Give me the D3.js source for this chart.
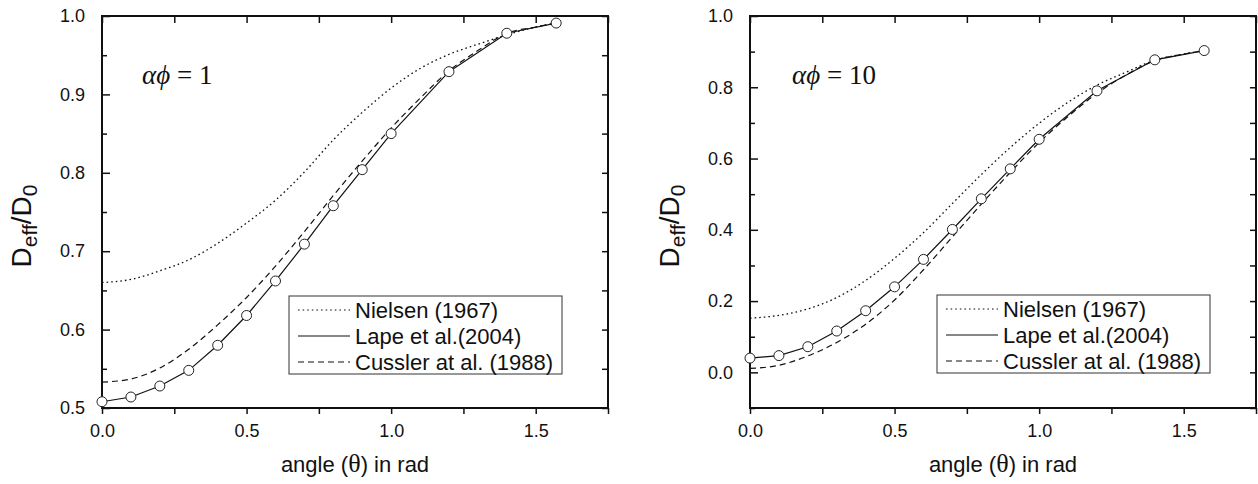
<!DOCTYPE html>
<html>
<head>
<meta charset="utf-8">
<script src="https://cdn.jsdelivr.net/npm/d3@7/dist/d3.min.js"></script>
<style>
  body { margin: 0; background: #fff; }
  svg { display: block; }
  text { fill: #111; }
</style>
</head>
<body>
<div id="graph"></div>
<script>

// angles (rad) where Lape et al. values were computed
var thetaPts = [0, 0.1, 0.2, 0.3, 0.4, 0.5, 0.6, 0.7, 0.8, 0.9, 1.0, 1.2, 1.4, 1.5708];
// angles used for the smooth model curves
var thetaCurve = [0, 0.1, 0.2, 0.3, 0.4, 0.5, 0.6, 0.7, 0.8, 0.9, 1.0, 1.1, 1.2, 1.3, 1.4, 1.5, 1.5708];

// alpha*phi = 1
var lape1    = [0.508, 0.514, 0.528, 0.548, 0.580, 0.618, 0.662, 0.709, 0.758, 0.804, 0.850, 0.929, 0.978, 0.991];
var nielsen1 = [0.660, 0.664, 0.675, 0.689, 0.710, 0.736, 0.765, 0.801, 0.842, 0.877, 0.908, 0.933, 0.951, 0.964, 0.976, 0.986, 0.991];
var cussler1 = [0.533, 0.537, 0.551, 0.575, 0.606, 0.641, 0.681, 0.725, 0.771, 0.815, 0.857, 0.895, 0.930, 0.956, 0.978, 0.986, 0.991];

// alpha*phi = 10
var lape10    = [0.040, 0.047, 0.072, 0.116, 0.173, 0.240, 0.317, 0.401, 0.487, 0.571, 0.654, 0.790, 0.877, 0.903];
var nielsen10 = [0.152, 0.160, 0.178, 0.210, 0.258, 0.320, 0.392, 0.474, 0.555, 0.631, 0.699, 0.758, 0.806, 0.842, 0.876, 0.893, 0.903];
var cussler10 = [0.011, 0.020, 0.046, 0.084, 0.135, 0.203, 0.288, 0.380, 0.472, 0.561, 0.645, 0.718, 0.783, 0.834, 0.875, 0.893, 0.903];

// tick labels
var xTicks = [0, 0.5, 1.0, 1.5];
var xMinor = [0.25, 0.75, 1.25, 1.75];
var yTicks1 = [0.5, 0.6, 0.7, 0.8, 0.9, 1.0];
var yMinor1 = [0.55, 0.65, 0.75, 0.85, 0.95];
var yTicks10 = [0.0, 0.2, 0.4, 0.6, 0.8, 1.0];
var yMinor10 = [-0.1, 0.1, 0.3, 0.5, 0.7, 0.9];

var legendNames = ["Nielsen (1967)", "Lape et al.(2004)", "Cussler at al. (1988)"];
var legendDash = ["1.6,3", null, "6,4"];

var svg = d3.select("#graph")
  .append("svg")
    .attr("width", 1258)
    .attr("height", 484);

function drawPanel(opt) {

    var margin = {top: 16, left: opt.left},
        width = 506,
        height = 392;

    var g = svg.append("g")
        .attr("transform", "translate(" + margin.left + "," + margin.top + ")");

    var x = d3.scaleLinear().domain([0, 1.75]).range([0, width]);
    var y = d3.scaleLinear().domain(opt.yDomain).range([height, 0]);

    // left axis, ticks inward
    g.append("g")
      .call(d3.axisLeft(y).tickValues(opt.yTicks).tickSize(-8).tickPadding(17)
            .tickFormat(d3.format(".1f")))
      .call(function(a) {
        a.select(".domain").remove();
        a.selectAll("text").attr("font-family", "Arial, 'Liberation Sans', sans-serif")
          .attr("font-size", 18).attr("fill", "#111");
        a.selectAll("line").attr("stroke", "#111").attr("stroke-width", 1.5);
      });
    g.append("g")
      .call(d3.axisLeft(y).tickValues(opt.yMinor).tickSize(-5).tickFormat(""))
      .call(function(a) {
        a.select(".domain").remove();
        a.selectAll("line").attr("stroke", "#111").attr("stroke-width", 1.5);
      });

    // right axis, ticks inward, no labels
    g.append("g")
      .attr("transform", "translate(" + width + ",0)")
      .call(d3.axisRight(y).tickValues(opt.yTicks.concat(opt.yMinor)).tickSize(-6).tickFormat(""))
      .call(function(a) {
        a.select(".domain").remove();
        a.selectAll("line").attr("stroke", "#111").attr("stroke-width", 1.5);
      });

    // bottom axis, ticks outward
    g.append("g")
      .attr("transform", "translate(0," + height + ")")
      .call(d3.axisBottom(x).tickValues(xTicks).tickSize(6).tickPadding(10)
            .tickFormat(d3.format(".1f")))
      .call(function(a) {
        a.select(".domain").remove();
        a.selectAll("text").attr("font-family", "Arial, 'Liberation Sans', sans-serif")
          .attr("font-size", 18).attr("fill", "#111");
        a.selectAll("line").attr("stroke", "#111").attr("stroke-width", 1.5);
      });
    g.append("g")
      .attr("transform", "translate(0," + height + ")")
      .call(d3.axisBottom(x).tickValues(xMinor).tickSize(6).tickFormat(""))
      .call(function(a) {
        a.select(".domain").remove();
        a.selectAll("line").attr("stroke", "#111").attr("stroke-width", 1.5);
      });

    // top axis, ticks inward
    g.append("g")
      .call(d3.axisTop(x).tickValues(xTicks.concat(xMinor)).tickSize(-7).tickFormat(""))
      .call(function(a) {
        a.select(".domain").remove();
        a.selectAll("line").attr("stroke", "#111").attr("stroke-width", 1.5);
      });

    // frame
    g.append("rect")
      .attr("width", width).attr("height", height)
      .attr("fill", "none").attr("stroke", "#111").attr("stroke-width", 2);

    var smooth = d3.line()
      .x(function(d) { return x(d[0]); })
      .y(function(d) { return y(d[1]); })
      .curve(d3.curveMonotoneX);
    var straight = d3.line()
      .x(function(d) { return x(d[0]); })
      .y(function(d) { return y(d[1]); });

    // Nielsen (dotted)
    g.append("path")
      .datum(d3.zip(thetaCurve, opt.nielsen))
      .attr("fill", "none").attr("stroke", "#111").attr("stroke-width", 1.3)
      .attr("stroke-dasharray", "1.6,3")
      .attr("d", smooth);

    // Cussler (dashed)
    g.append("path")
      .datum(d3.zip(thetaCurve, opt.cussler))
      .attr("fill", "none").attr("stroke", "#111").attr("stroke-width", 1.2)
      .attr("stroke-dasharray", "6,4")
      .attr("d", smooth);

    // Lape (solid + open circles)
    var lp = d3.zip(thetaPts, opt.lape);
    g.append("path")
      .datum(lp)
      .attr("fill", "none").attr("stroke", "#111").attr("stroke-width", 1.2)
      .attr("d", straight);
    g.selectAll("circle.pt")
      .data(lp)
      .enter()
      .append("circle")
        .attr("class", "pt")
        .attr("cx", function(d) { return x(d[0]); })
        .attr("cy", function(d) { return y(d[1]); })
        .attr("r", 5)
        .attr("fill", "#fff").attr("stroke", "#222").attr("stroke-width", 1);

    // legend
    var lg = g.append("g")
      .attr("transform", "translate(" + opt.legX + "," + opt.legY + ")");
    lg.append("rect")
      .attr("width", opt.legW).attr("height", 78)
      .attr("fill", "#fff").attr("stroke", "#333").attr("stroke-width", 1);
    legendNames.forEach(function(name, i) {
        var yy = 14 + i * 26;
        lg.append("line")
          .attr("x1", 9).attr("x2", 61).attr("y1", yy).attr("y2", yy)
          .attr("stroke", "#111").attr("stroke-width", 1.2)
          .attr("stroke-dasharray", legendDash[i]);
        lg.append("text")
          .attr("x", 66).attr("y", yy + 8)
          .attr("font-family", "Arial, 'Liberation Sans', sans-serif")
          .attr("font-size", 22)
          .text(name);
    });

    // alpha*phi annotation
    var ann = g.append("text")
      .attr("x", opt.annX).attr("y", 68)
      .attr("font-family", "'Times New Roman', 'Liberation Serif', serif")
      .attr("font-size", 27);
    ann.append("tspan").attr("font-style", "italic").text("\u03B1\u03D5");
    ann.append("tspan").text(" = " + opt.annVal);

    // y label
    var yl = svg.append("text")
      .attr("transform", "translate(" + (margin.left - 71) + ",226) rotate(-90)")
      .attr("text-anchor", "middle")
      .attr("font-family", "Arial, 'Liberation Sans', sans-serif")
      .attr("font-size", 28);
    yl.append("tspan").text("D");
    yl.append("tspan").attr("font-size", 21).attr("dy", 6).text("eff");
    yl.append("tspan").attr("dy", -6).text("/D");
    yl.append("tspan").attr("font-size", 21).attr("dy", 6).text("0");

    // x label
    var xl = svg.append("text")
      .attr("x", margin.left + width / 2).attr("y", 472)
      .attr("text-anchor", "middle")
      .attr("font-family", "Arial, 'Liberation Sans', sans-serif")
      .attr("font-size", 22);
    xl.append("tspan").text("angle (");
    xl.append("tspan").attr("font-family", "'Times New Roman', 'Liberation Serif', serif")
      .attr("font-size", 26).text("\u03B8");
    xl.append("tspan").text(") in rad");
}

drawPanel({left: 102, yDomain: [0.5, 1.0], yTicks: yTicks1, yMinor: yMinor1,
           lape: lape1, nielsen: nielsen1, cussler: cussler1,
           legX: 187, legY: 280, legW: 273, annX: 40, annVal: "1"});

drawPanel({left: 750, yDomain: [-0.1, 1.0], yTicks: yTicks10, yMinor: yMinor10,
           lape: lape10, nielsen: nielsen10, cussler: cussler10,
           legX: 187, legY: 279, legW: 273, annX: 42, annVal: "10"});

</script>
</body>
</html>
